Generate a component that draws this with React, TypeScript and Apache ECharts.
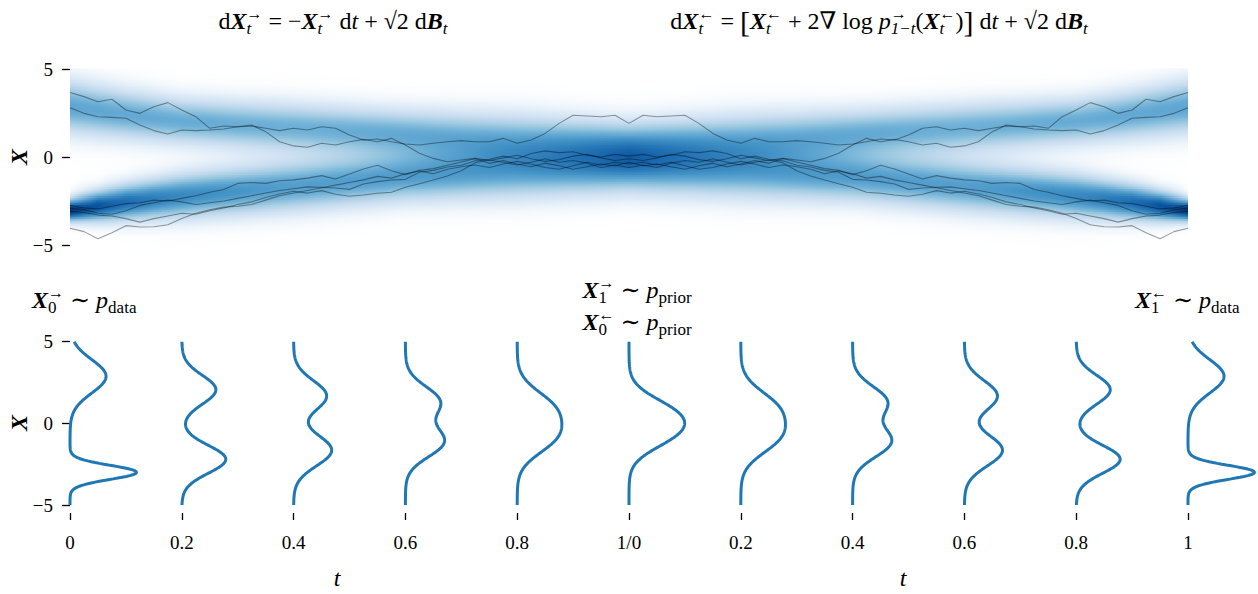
import React, { useEffect, useRef } from "react";
import * as echarts from "echarts";

const FONT = "'Liberation Serif', 'DejaVu Serif', serif";

// ---- density snapshots (forward half, t = 0 .. 1, step 0.05) ----
const FWD_T = [0, 0.05, 0.1, 0.15, 0.2, 0.25, 0.3, 0.35, 0.4, 0.45, 0.5, 0.55, 0.6, 0.65, 0.7, 0.75, 0.8, 0.85, 0.9, 0.95, 1.0];
const MU_UP = [2.88, 2.65, 2.43, 2.24, 2.06, 1.96, 1.86, 1.77, 1.68, 1.59, 1.5, 1.41, 1.32, 1.23, 1.14, 1.06, 0.98, 0.91, 0.84, 0.77, 0.7];
const SD_UP = [1.02, 0.98, 0.94, 0.91, 0.88, 0.89, 0.9, 0.92, 0.93, 0.93, 0.93, 0.93, 0.93, 0.96, 0.98, 1.01, 1.03, 1.01, 0.99, 0.98, 0.96];
const AMP_UP = [0.2, 0.197, 0.194, 0.192, 0.189, 0.188, 0.186, 0.184, 0.183, 0.184, 0.186, 0.188, 0.189, 0.186, 0.183, 0.181, 0.178, 0.183, 0.189, 0.194, 0.2];
const MU_LO = [-3.0, -2.77, -2.55, -2.37, -2.2, -2.05, -1.92, -1.78, -1.65, -1.51, -1.38, -1.25, -1.12, -1.05, -0.98, -0.91, -0.85, -0.81, -0.77, -0.73, -0.68];
const SD_LO = [0.43, 0.58, 0.69, 0.77, 0.85, 0.88, 0.91, 0.93, 0.95, 0.95, 0.94, 0.94, 0.93, 0.96, 0.98, 1.01, 1.03, 1.01, 0.99, 0.98, 0.96];
const AMP_LO = [0.369, 0.322, 0.286, 0.261, 0.244, 0.235, 0.227, 0.218, 0.211, 0.211, 0.211, 0.211, 0.211, 0.206, 0.2, 0.194, 0.189, 0.192, 0.194, 0.197, 0.2];

// ---- sample paths, forward half (t = 0 .. 1, step 0.025); the reverse half mirrors them ----
const PATH_T_STEP = 0.025;
const PATH_A = [3.67, 3.43, 3.14, 3.28, 2.67, 2.48, 2.86, 3.09, 2.67, 2.29, 1.63, 1.76, 1.72, 1.82, 1.44, 0.87, 0.63, 0.55, 0.78, 0.68, 0.87, 1.0, 0.87, 1.06, 0.68, 0.21, -0.08, -0.27, -0.17, -0.08, -0.2, -0.05, 0.1, -0.1, -0.25, -0.15, 0.05, 0.15, -0.05, -0.2, -0.1];
const PATH_B = [2.8, 2.48, 2.29, 2.25, 2.2, 1.82, 1.5, 1.31, 1.53, 1.5, 1.53, 1.59, 1.72, 1.76, 1.63, 1.5, 1.63, 1.53, 1.72, 1.63, 1.25, 0.97, 1.02, 0.87, 0.74, 0.68, 0.78, 0.87, 0.93, 0.87, 0.87, 1.06, 0.78, 0.97, 1.34, 1.91, 2.37, 2.33, 2.29, 2.37, 1.91];
const PATH_C = [-2.75, -2.9, -2.95, -2.8, -2.65, -2.6, -2.45, -2.5, -2.35, -2.2, -2.0, -1.85, -1.5, -1.45, -1.5, -1.35, -1.3, -1.2, -1.06, -1.25, -0.97, -0.68, -0.47, -0.78, -1.0, -0.76, -0.66, -0.47, -0.28, -0.09, -0.36, -0.2, -0.4, -0.55, -0.35, -0.5, -0.7, -0.55, -0.4, -0.5, -0.3];
const PATH_D = [-2.9, -3.0, -3.2, -3.25, -3.05, -2.75, -2.6, -2.45, -2.55, -2.7, -2.6, -2.5, -2.35, -2.2, -2.05, -1.9, -1.8, -1.7, -1.72, -1.76, -1.84, -1.53, -1.4, -1.31, -1.27, -0.87, -0.76, -0.57, -0.47, -0.21, -0.13, 0.05, -0.1, 0.2, 0.35, 0.25, 0.3, 0.1, 0.0, 0.15, 0.05];
const PATH_E = [-3.1, -3.15, -3.3, -3.35, -3.5, -3.7, -3.5, -3.35, -3.2, -3.25, -3.05, -2.9, -2.7, -2.55, -2.3, -2.1, -1.95, -2.05, -1.91, -2.12, -2.23, -2.16, -2.06, -2.0, -1.72, -1.52, -1.31, -1.08, -0.78, -0.32, -0.17, -0.3, -0.45, -0.3, -0.1, -0.3, -0.2, -0.35, -0.6, -0.45, -0.6];
const PATH_F = [-4.05, -4.24, -4.65, -4.3, -3.9, -3.98, -3.96, -3.85, -3.5, -3.2, -3.0, -2.85, -2.8, -2.7, -2.45, -2.2, -2.05, -1.9, -1.75, -1.6, -1.45, -1.3, -1.1, -1.2, -0.95, -0.8, -0.95, -0.7, -0.55, -0.45, -0.6, -0.4, -0.25, -0.4, -0.6, -0.7, -0.5, -0.3, -0.45, -0.3, -0.4];
const PATHS = [PATH_A, PATH_B, PATH_C, PATH_D, PATH_E, PATH_F];

// ---- axes ----
const X_TICK_LABELS = ["0", "0.2", "0.4", "0.6", "0.8", "1/0", "0.2", "0.4", "0.6", "0.8", "1"];
const SNAPSHOT_TICKS = [0, 0.2, 0.4, 0.6, 0.8, 1.0, 1.2, 1.4, 1.6, 1.8, 2.0];

const DENS_TO_T = 0.3224; // horizontal scale of the density curves (t-units per density unit)
const PX_PER_T = 559;

const BLUES = [
  [255, 255, 255], [222, 235, 247], [198, 219, 239], [158, 202, 225], [107, 174, 214],
  [66, 146, 198], [33, 113, 181], [8, 81, 156], [8, 48, 107],
];
function blues(v: number) {
  const c = Math.max(0, Math.min(1, v));
  const p = c * 8;
  const i = Math.min(7, Math.floor(p));
  const f = p - i;
  const a = BLUES[i], b = BLUES[i + 1];
  const m = (k: number) => Math.round(a[k] + (b[k] - a[k]) * f);
  return `rgb(${m(0)},${m(1)},${m(2)})`;
}

function density(i: number, x: number) {
  const du = (x - MU_UP[i]) / SD_UP[i];
  const dl = (x - MU_LO[i]) / SD_LO[i];
  return AMP_UP[i] * Math.exp(-0.5 * du * du) + AMP_LO[i] * Math.exp(-0.5 * dl * dl);
}

const tickFmt = (v: number) => (v < 0 ? "\u2212" + Math.abs(v) : String(v));

const base = { fontFamily: FONT, fontSize: 24, lineHeight: 32, align: "left", fill: "#000" };
const RICH: any = {
  n: { ...base },
  i: { ...base, fontStyle: "italic" },
  X: { ...base, fontStyle: "italic", fontWeight: "bold" },
  br: { ...base, fontSize: 30 },
  s: { fontFamily: FONT, fontSize: 17, lineHeight: 18, fontStyle: "italic", verticalAlign: "bottom", align: "left", fill: "#000" },
  sz: { fontFamily: FONT, fontSize: 17, lineHeight: 18, fontStyle: "italic", verticalAlign: "bottom", align: "left", width: 0, fill: "#000" },
  u: { fontFamily: FONT, fontSize: 17, lineHeight: 18, verticalAlign: "bottom", align: "left", fill: "#000" },
  uz: { fontFamily: FONT, fontSize: 17, lineHeight: 18, verticalAlign: "bottom", align: "left", width: 0, fill: "#000" },
  a: { fontFamily: FONT, fontSize: 16, lineHeight: 16, verticalAlign: "top", align: "left", fill: "#000" },
  az: { fontFamily: FONT, fontSize: 16, lineHeight: 16, verticalAlign: "top", align: "left", width: 0, fill: "#000" },
};

function textEl(x: number, y: number, text: string, align = "center") {
  return {
    type: "text",
    x,
    y,
    silent: true,
    style: { text, rich: RICH, align, verticalAlign: "middle", textAlign: align, textVerticalAlign: "middle", fill: "#000" },
  };
}

function plainText(x: number, y: number, text: string, font: string, rotation = 0) {
  return {
    type: "text",
    x,
    y,
    rotation,
    silent: true,
    style: { text, font, align: "center", verticalAlign: "middle", textAlign: "center", textVerticalAlign: "middle", fill: "#000" },
  };
}

export default function App() {
  const ref = useRef<HTMLDivElement>(null);
  useEffect(() => {
    if (!ref.current) return;
    const chart = echarts.init(ref.current, undefined, { renderer: "svg" });

    // heat-map rows
    const ROW_H = 0.1;
    const rows: number[][] = [];
    for (let r = 0; r < 100; r++) rows.push([0, -5 + ROW_H * (r + 0.5)]);
    let vmax = 0;
    for (let i = 0; i < FWD_T.length; i++) for (let x = -5; x <= 5; x += 0.02) vmax = Math.max(vmax, density(i, x));

    const pathSeries = PATHS.map((p) => {
      const data: number[][] = [];
      const n = p.length - 1;
      for (let k = 0; k <= 2 * n; k++) data.push([k * PATH_T_STEP, p[k <= n ? k : 2 * n - k]]);
      return {
        type: "line",
        xAxisIndex: 0,
        yAxisIndex: 0,
        data,
        showSymbol: false,
        symbol: "none",
        silent: true,
        z: 3,
        lineStyle: { color: "rgba(0,0,0,0.38)", width: 1.1 },
      };
    });

    const curveSeries = SNAPSHOT_TICKS.map((t0, j) => {
      const idx = j <= 5 ? j * 4 : (10 - j) * 4;
      const data: number[][] = [];
      for (let s = 0; s <= 200; s++) {
        const x = -5 + s * 0.05;
        data.push([t0 + density(idx, x) * DENS_TO_T, x]);
      }
      return {
        type: "line",
        xAxisIndex: 2,
        yAxisIndex: 2,
        data,
        showSymbol: false,
        symbol: "none",
        silent: true,
        lineStyle: { color: "#1f77b4", width: 3 },
      };
    });

    const yAx = (gi: number) => ({
      gridIndex: gi,
      type: "value",
      min: -5,
      max: 5,
      interval: 5,
      axisLine: { show: false },
      axisTick: { show: true, length: 8, lineStyle: { color: "#000", width: 1.3 } },
      axisLabel: { margin: 17, fontSize: 19, fontFamily: FONT, color: "#000", formatter: tickFmt },
      splitLine: { show: false },
    });

    chart.setOption({
      animation: false,
      grid: [
        { left: 70, top: 69, width: 1118, height: 176 },
        { left: 70, top: 341.7, width: 1118, height: 163.3 },
        { left: 70, top: 341.7, width: 1188, height: 163.3 },
      ],
      xAxis: [
        { gridIndex: 0, type: "value", min: 0, max: 2, show: false },
        {
          gridIndex: 1,
          type: "value",
          min: 0,
          max: 2,
          interval: 0.2,
          offset: 8,
          axisLine: { show: false, onZero: false },
          axisTick: { show: true, length: 7, lineStyle: { color: "#000", width: 1.3 } },
          axisLabel: {
            margin: 20,
            fontSize: 19,
            fontFamily: FONT,
            color: "#000",
            formatter: (v: number) => X_TICK_LABELS[Math.round(v / 0.2)] ?? "",
          },
          splitLine: { show: false },
        },
        { gridIndex: 2, type: "value", min: 0, max: 1188 / PX_PER_T, show: false },
      ],
      yAxis: [yAx(0), yAx(1), { gridIndex: 2, type: "value", min: -5, max: 5, show: false }],
      series: [
        {
          type: "custom",
          xAxisIndex: 0,
          yAxisIndex: 0,
          silent: true,
          z: 1,
          data: rows,
          renderItem: (params: any, api: any) => {
            const xc = api.value(1) as number;
            const p0 = api.coord([0, xc + ROW_H / 2]);
            const p1 = api.coord([2, xc - ROW_H / 2]);
            const stops: any[] = [];
            const n = FWD_T.length - 1;
            for (let j = 0; j <= 2 * n; j++) {
              const idx = j <= n ? j : 2 * n - j;
              const t = j <= n ? FWD_T[idx] : 2 - FWD_T[idx];
              stops.push({ offset: t / 2, color: blues(density(idx, xc) / vmax) });
            }
            return {
              type: "rect",
              shape: { x: p0[0], y: p0[1] - 0.4, width: p1[0] - p0[0], height: p1[1] - p0[1] + 0.8 },
              style: { fill: new echarts.graphic.LinearGradient(0, 0, 1, 0, stops) },
            };
          },
        },
        ...pathSeries,
        ...curveSeries,
      ],
      graphic: [
        textEl(333, 21, "{n|d}{X|X}{sz|t}{a|→}{n| = −}{X|X}{sz|t}{a|→}{n| d}{i|t}{n| + √2 d}{X|B}{s|t}"),
        textEl(
          879,
          21,
          "{n|d}{X|X}{sz|t}{a|←}{n| = }{br|[}{X|X}{sz|t}{a|←}{n| + 2∇ log }{i|p}{az|→}{s|1−t}{n|(}{X|X}{sz|t}{a|←}{n|)}{br|]}{n| d}{i|t}{n| + √2 d}{X|B}{s|t}"
        ),
        textEl(32, 300, "{X|X}{uz|0}{a|→}{n| ∼ }{i|p}{u|data}", "left"),
        textEl(637, 306, "{X|X}{uz|1}{a|→}{n| ∼ }{i|p}{u|prior}\n{X|X}{uz|0}{a|←}{n| ∼ }{i|p}{u|prior}"),
        textEl(1135, 300, "{X|X}{uz|1}{a|←}{n| ∼ }{i|p}{u|data}", "left"),
        plainText(19, 157, "X", `italic bold 24px ${FONT}`, Math.PI / 2),
        plainText(19, 423, "X", `italic bold 24px ${FONT}`, Math.PI / 2),
        plainText(337, 578, "t", `italic 24px ${FONT}`),
        plainText(903, 578, "t", `italic 24px ${FONT}`),
      ],
    });
    return () => chart.dispose();
  }, []);
  return <div ref={ref} style={{ position: "absolute", left: 0, top: 0, width: 1258, height: 594, background: "#fff" }} />;
}
